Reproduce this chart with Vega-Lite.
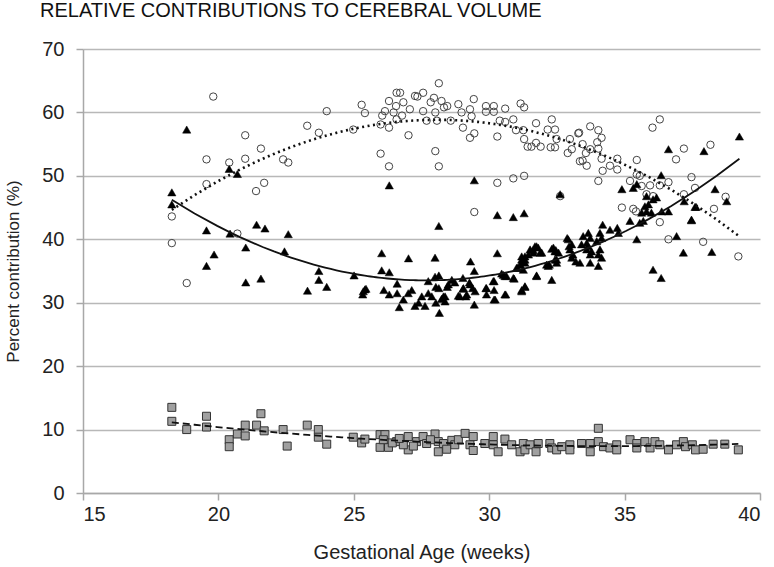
{
  "$schema": "https://vega.github.io/schema/vega-lite/v6.json",
  "width": 677,
  "height": 444,
  "autosize": {"type": "none"},
  "padding": {"left": 83, "top": 49, "right": 14, "bottom": 74},
  "background": "white",
  "config": {
    "view": {"stroke": null},
    "font": "Liberation Sans",
    "axis": {
      "labelFont": "Liberation Sans",
      "labelFontSize": 20,
      "labelColor": "#222",
      "titleFont": "Liberation Sans",
      "titleFontWeight": "normal",
      "titleColor": "#222",
      "domainColor": "#a8a8a8",
      "domainWidth": 1.5,
      "tickColor": "#a8a8a8",
      "tickWidth": 1.5,
      "tickSize": 7,
      "gridColor": "#b8b8b8",
      "gridWidth": 1.5
    }
  },
  "title": {
    "text": "RELATIVE CONTRIBUTIONS TO CEREBRAL VOLUME",
    "anchor": "start",
    "frame": "group",
    "font": "Liberation Sans",
    "fontSize": 20,
    "fontWeight": "normal",
    "color": "#111",
    "dx": -43,
    "offset": 18
  },
  "datasets": {
    "circles": [
      {"age": 19.81, "pct": 62.5}, {"age": 19.56, "pct": 52.6}, {"age": 20.40, "pct": 52.1}, {"age": 20.99, "pct": 56.4}, {"age": 20.99, "pct": 52.7}, {"age": 21.57, "pct": 54.3}, {"age": 19.56, "pct": 48.7}, {"age": 21.69, "pct": 48.9}, {"age": 21.39, "pct": 47.6}, {"age": 22.39, "pct": 52.6}, {"age": 22.58, "pct": 52.1}, {"age": 23.28, "pct": 57.9}, {"age": 23.71, "pct": 56.8}, {"age": 24.00, "pct": 60.2}, {"age": 24.98, "pct": 57.3}, {"age": 25.29, "pct": 61.2}, {"age": 25.41, "pct": 59.9}, {"age": 18.28, "pct": 43.6}, {"age": 18.28, "pct": 39.4}, {"age": 18.83, "pct": 33.1}, {"age": 20.70, "pct": 40.9},
      {"age": 25.99, "pct": 58.1}, {"age": 26.15, "pct": 60.2}, {"age": 26.30, "pct": 61.8}, {"age": 26.30, "pct": 57.6}, {"age": 26.58, "pct": 63.1}, {"age": 26.71, "pct": 63.1}, {"age": 26.56, "pct": 61.0}, {"age": 26.58, "pct": 58.9}, {"age": 26.83, "pct": 61.6}, {"age": 27.02, "pct": 56.4}, {"age": 27.07, "pct": 60.5}, {"age": 27.26, "pct": 62.6}, {"age": 27.35, "pct": 62.5}, {"age": 27.56, "pct": 63.1}, {"age": 27.56, "pct": 60.2}, {"age": 27.69, "pct": 58.7}, {"age": 27.84, "pct": 61.6}, {"age": 27.96, "pct": 62.3}, {"age": 28.01, "pct": 60.0}, {"age": 28.07, "pct": 58.7}, {"age": 28.14, "pct": 64.6}, {"age": 28.24, "pct": 61.8}, {"age": 28.33, "pct": 60.8}, {"age": 28.45, "pct": 61.0}, {"age": 28.58, "pct": 58.7}, {"age": 28.01, "pct": 53.9}, {"age": 28.14, "pct": 51.5}, {"age": 25.99, "pct": 53.5}, {"age": 26.30, "pct": 51.5}, {"age": 28.86, "pct": 61.3}, {"age": 28.98, "pct": 60.0}, {"age": 29.03, "pct": 57.6}, {"age": 29.29, "pct": 60.5}, {"age": 29.35, "pct": 59.4}, {"age": 29.43, "pct": 62.1}, {"age": 29.29, "pct": 56.0}, {"age": 29.45, "pct": 56.7}, {"age": 29.88, "pct": 61.0}, {"age": 29.88, "pct": 60.1}, {"age": 30.17, "pct": 61.0}, {"age": 30.17, "pct": 60.1}, {"age": 30.59, "pct": 60.6}, {"age": 30.39, "pct": 58.7}, {"age": 30.59, "pct": 58.5}, {"age": 30.89, "pct": 58.9}, {"age": 30.30, "pct": 56.2}, {"age": 31.16, "pct": 61.4}, {"age": 31.29, "pct": 60.8}, {"age": 30.99, "pct": 57.2}, {"age": 31.26, "pct": 57.2}, {"age": 31.29, "pct": 55.8}, {"age": 31.42, "pct": 54.6}, {"age": 31.56, "pct": 54.6}, {"age": 31.73, "pct": 58.3}, {"age": 31.73, "pct": 55.2}, {"age": 31.90, "pct": 54.6}, {"age": 32.16, "pct": 57.3}, {"age": 32.31, "pct": 58.9}, {"age": 32.43, "pct": 57.3}, {"age": 32.27, "pct": 54.5}, {"age": 32.43, "pct": 54.5}, {"age": 32.49, "pct": 55.8}, {"age": 32.98, "pct": 55.8}, {"age": 32.90, "pct": 53.6}, {"age": 33.05, "pct": 54.2}, {"age": 33.29, "pct": 56.7}, {"age": 33.35, "pct": 52.3}, {"age": 30.30, "pct": 48.9}, {"age": 30.89, "pct": 49.6}, {"age": 31.29, "pct": 50.0}, {"age": 29.45, "pct": 44.3}, {"age": 32.62, "pct": 46.8},
      {"age": 26.05, "pct": 59.5}, {"age": 26.47, "pct": 60.0}, {"age": 26.78, "pct": 59.5},
      {"age": 33.32, "pct": 56.8}, {"age": 33.73, "pct": 57.8}, {"age": 34.03, "pct": 57.2}, {"age": 34.15, "pct": 56.0}, {"age": 33.99, "pct": 55.3}, {"age": 33.45, "pct": 55.0}, {"age": 33.73, "pct": 54.2}, {"age": 33.57, "pct": 53.6}, {"age": 34.03, "pct": 54.3}, {"age": 34.15, "pct": 52.7}, {"age": 33.45, "pct": 52.4}, {"age": 33.60, "pct": 51.6}, {"age": 34.19, "pct": 50.8}, {"age": 34.46, "pct": 51.6}, {"age": 34.73, "pct": 52.7}, {"age": 34.73, "pct": 51.0}, {"age": 34.03, "pct": 49.2}, {"age": 35.45, "pct": 52.5}, {"age": 35.20, "pct": 49.2}, {"age": 35.45, "pct": 50.2}, {"age": 35.56, "pct": 50.0}, {"age": 35.63, "pct": 48.4}, {"age": 35.94, "pct": 48.5}, {"age": 36.30, "pct": 48.5}, {"age": 36.62, "pct": 49.0}, {"age": 35.81, "pct": 47.1}, {"age": 36.05, "pct": 46.8}, {"age": 34.90, "pct": 45.0}, {"age": 35.32, "pct": 44.8}, {"age": 35.42, "pct": 44.4}, {"age": 36.30, "pct": 42.7}, {"age": 36.62, "pct": 40.0}, {"age": 36.03, "pct": 57.6}, {"age": 36.30, "pct": 58.9}, {"age": 36.90, "pct": 52.6}, {"age": 37.19, "pct": 54.3}, {"age": 38.17, "pct": 54.9}, {"age": 37.47, "pct": 49.8}, {"age": 37.60, "pct": 48.1}, {"age": 37.19, "pct": 47.1}, {"age": 38.30, "pct": 44.8}, {"age": 37.90, "pct": 39.6}, {"age": 38.73, "pct": 46.7}, {"age": 39.20, "pct": 37.3}
    ],
    "triangles": [
      {"age": 18.83, "pct": 57.3}, {"age": 20.40, "pct": 51.1}, {"age": 20.70, "pct": 50.3}, {"age": 18.28, "pct": 47.4}, {"age": 18.28, "pct": 45.5}, {"age": 19.56, "pct": 41.4}, {"age": 20.43, "pct": 40.9}, {"age": 19.84, "pct": 37.6}, {"age": 19.56, "pct": 35.8}, {"age": 21.01, "pct": 38.7}, {"age": 21.01, "pct": 33.2}, {"age": 21.57, "pct": 33.8}, {"age": 21.41, "pct": 42.3}, {"age": 21.72, "pct": 41.7}, {"age": 22.58, "pct": 40.8}, {"age": 22.44, "pct": 38.1}, {"age": 23.71, "pct": 35.0}, {"age": 23.71, "pct": 33.6}, {"age": 24.00, "pct": 32.5}, {"age": 23.29, "pct": 31.9}, {"age": 25.01, "pct": 34.3}, {"age": 25.41, "pct": 32.1}, {"age": 25.33, "pct": 31.3},
      {"age": 26.31, "pct": 48.5}, {"age": 29.45, "pct": 49.3}, {"age": 30.30, "pct": 43.8}, {"age": 30.89, "pct": 43.5}, {"age": 31.29, "pct": 44.1}, {"age": 32.62, "pct": 47.1},
      {"age": 28.14, "pct": 42.1}, {"age": 26.03, "pct": 37.8}, {"age": 27.02, "pct": 37.0}, {"age": 28.00, "pct": 37.1}, {"age": 26.03, "pct": 35.1}, {"age": 26.31, "pct": 34.8}, {"age": 29.31, "pct": 36.5}, {"age": 29.45, "pct": 35.0}, {"age": 30.30, "pct": 37.8}, {"age": 25.35, "pct": 31.8}, {"age": 25.45, "pct": 32.2}, {"age": 26.11, "pct": 32.0}, {"age": 26.31, "pct": 31.3}, {"age": 26.60, "pct": 33.0}, {"age": 26.60, "pct": 31.5}, {"age": 26.68, "pct": 29.3}, {"age": 26.83, "pct": 30.5}, {"age": 27.01, "pct": 31.5}, {"age": 27.14, "pct": 32.0}, {"age": 27.26, "pct": 29.5}, {"age": 27.39, "pct": 30.0}, {"age": 27.51, "pct": 31.0}, {"age": 27.63, "pct": 29.5}, {"age": 27.75, "pct": 33.4}, {"age": 27.75, "pct": 31.5}, {"age": 27.88, "pct": 31.0}, {"age": 28.00, "pct": 34.1}, {"age": 28.03, "pct": 32.5}, {"age": 28.14, "pct": 34.3}, {"age": 28.14, "pct": 32.3}, {"age": 28.16, "pct": 28.4}, {"age": 28.03, "pct": 30.0}, {"age": 28.24, "pct": 30.6}, {"age": 28.37, "pct": 31.0}, {"age": 28.45, "pct": 32.5}, {"age": 28.62, "pct": 33.6}, {"age": 28.73, "pct": 33.2}, {"age": 28.86, "pct": 31.1}, {"age": 29.03, "pct": 33.9}, {"age": 29.03, "pct": 32.2}, {"age": 29.14, "pct": 31.0}, {"age": 29.27, "pct": 33.2}, {"age": 29.39, "pct": 32.3}, {"age": 29.45, "pct": 29.7}, {"age": 29.48, "pct": 31.8}, {"age": 29.88, "pct": 32.3}, {"age": 29.90, "pct": 31.3}, {"age": 30.18, "pct": 33.4}, {"age": 30.18, "pct": 32.0}, {"age": 30.18, "pct": 30.5}, {"age": 30.46, "pct": 34.6}, {"age": 30.58, "pct": 34.2}, {"age": 30.61, "pct": 31.3}, {"age": 30.92, "pct": 33.8}, {"age": 31.04, "pct": 35.5}, {"age": 31.20, "pct": 37.3}, {"age": 31.26, "pct": 36.5}, {"age": 31.20, "pct": 32.0}, {"age": 31.32, "pct": 32.5}, {"age": 31.51, "pct": 38.4}, {"age": 31.63, "pct": 38.3}, {"age": 31.75, "pct": 38.9}, {"age": 31.88, "pct": 37.9}, {"age": 31.75, "pct": 34.3}, {"age": 32.31, "pct": 38.5}, {"age": 32.46, "pct": 38.3}, {"age": 32.49, "pct": 36.8}, {"age": 32.22, "pct": 36.0}, {"age": 32.31, "pct": 33.6}, {"age": 32.88, "pct": 40.2}, {"age": 32.95, "pct": 38.9}, {"age": 33.05, "pct": 37.1}, {"age": 33.20, "pct": 36.5},
      {"age": 28.31, "pct": 31.0}, {"age": 28.37, "pct": 30.2}, {"age": 28.49, "pct": 32.9}, {"age": 28.92, "pct": 31.0}, {"age": 29.05, "pct": 32.3}, {"age": 29.17, "pct": 31.3}, {"age": 29.29, "pct": 32.9}, {"age": 29.90, "pct": 32.3}, {"age": 30.15, "pct": 33.4}, {"age": 30.22, "pct": 30.5}, {"age": 30.58, "pct": 31.3}, {"age": 31.14, "pct": 36.0}, {"age": 31.32, "pct": 36.8}, {"age": 31.45, "pct": 37.6},
      {"age": 34.90, "pct": 47.9}, {"age": 35.32, "pct": 48.1}, {"age": 35.45, "pct": 48.7}, {"age": 35.81, "pct": 46.8}, {"age": 35.88, "pct": 45.5}, {"age": 36.05, "pct": 46.3}, {"age": 36.18, "pct": 46.6}, {"age": 35.75, "pct": 45.2}, {"age": 35.63, "pct": 44.2}, {"age": 35.81, "pct": 44.4}, {"age": 35.99, "pct": 44.2}, {"age": 36.37, "pct": 44.4}, {"age": 36.62, "pct": 44.4}, {"age": 35.56, "pct": 42.6}, {"age": 35.69, "pct": 42.9}, {"age": 35.20, "pct": 42.9}, {"age": 34.73, "pct": 41.8}, {"age": 34.77, "pct": 41.0}, {"age": 34.46, "pct": 41.5}, {"age": 34.19, "pct": 42.3}, {"age": 34.09, "pct": 41.0}, {"age": 34.15, "pct": 40.2}, {"age": 33.97, "pct": 39.7}, {"age": 33.66, "pct": 41.0}, {"age": 33.73, "pct": 40.2}, {"age": 33.60, "pct": 39.4}, {"age": 33.47, "pct": 40.5},
      {"age": 33.41, "pct": 39.2}, {"age": 33.60, "pct": 38.4}, {"age": 33.66, "pct": 38.9}, {"age": 33.78, "pct": 38.1}, {"age": 33.73, "pct": 37.6}, {"age": 34.09, "pct": 38.4}, {"age": 34.03, "pct": 37.6}, {"age": 34.15, "pct": 37.1}, {"age": 34.03, "pct": 35.8}, {"age": 32.92, "pct": 40.0}, {"age": 33.05, "pct": 39.2}, {"age": 32.98, "pct": 38.4}, {"age": 33.09, "pct": 37.6}, {"age": 33.35, "pct": 36.3}, {"age": 33.73, "pct": 36.3}, {"age": 32.37, "pct": 38.7}, {"age": 32.43, "pct": 38.1}, {"age": 32.56, "pct": 37.9}, {"age": 32.43, "pct": 36.8}, {"age": 32.49, "pct": 36.3}, {"age": 31.69, "pct": 38.9}, {"age": 31.81, "pct": 38.7}, {"age": 31.94, "pct": 37.9}, {"age": 31.63, "pct": 37.9}, {"age": 31.75, "pct": 34.2}, {"age": 31.32, "pct": 37.3}, {"age": 31.20, "pct": 36.8}, {"age": 31.32, "pct": 36.3}, {"age": 31.01, "pct": 35.5}, {"age": 31.26, "pct": 35.2}, {"age": 32.12, "pct": 36.0}, {"age": 32.18, "pct": 35.8}, {"age": 30.52, "pct": 34.4}, {"age": 30.64, "pct": 34.2}, {"age": 30.89, "pct": 33.9}, {"age": 31.32, "pct": 32.6}, {"age": 31.20, "pct": 31.8},
      {"age": 35.45, "pct": 40.0}, {"age": 36.92, "pct": 40.5}, {"age": 37.17, "pct": 37.9}, {"age": 37.47, "pct": 43.1}, {"age": 37.64, "pct": 45.1}, {"age": 37.20, "pct": 46.0}, {"age": 36.05, "pct": 35.2}, {"age": 36.35, "pct": 33.9}, {"age": 36.62, "pct": 54.2}, {"age": 37.93, "pct": 53.9}, {"age": 39.24, "pct": 56.2}, {"age": 36.35, "pct": 50.1}, {"age": 38.34, "pct": 47.9}, {"age": 38.77, "pct": 46.0}, {"age": 37.60, "pct": 45.1}, {"age": 37.47, "pct": 43.0}, {"age": 38.22, "pct": 38.0}
    ],
    "squares": [
      {"age": 18.28, "pct": 13.5}, {"age": 18.28, "pct": 11.3}, {"age": 18.83, "pct": 10.0}, {"age": 19.56, "pct": 12.1}, {"age": 19.56, "pct": 10.4}, {"age": 20.40, "pct": 8.4}, {"age": 20.40, "pct": 7.3}, {"age": 20.70, "pct": 9.3}, {"age": 20.99, "pct": 10.7}, {"age": 20.99, "pct": 9.0}, {"age": 21.41, "pct": 10.7}, {"age": 21.57, "pct": 12.5}, {"age": 21.69, "pct": 9.8}, {"age": 22.39, "pct": 10.0}, {"age": 22.54, "pct": 7.4}, {"age": 23.28, "pct": 10.7}, {"age": 23.69, "pct": 10.0}, {"age": 23.69, "pct": 8.8}, {"age": 24.00, "pct": 7.7}, {"age": 24.98, "pct": 8.8}, {"age": 25.29, "pct": 7.9}, {"age": 25.41, "pct": 8.5}, {"age": 25.97, "pct": 9.2}, {"age": 26.15, "pct": 9.2}, {"age": 25.97, "pct": 7.2}, {"age": 26.28, "pct": 7.2}, {"age": 26.09, "pct": 8.4}, {"age": 26.58, "pct": 8.1}, {"age": 27.01, "pct": 8.9}, {"age": 27.01, "pct": 6.8}, {"age": 26.83, "pct": 7.6}, {"age": 27.32, "pct": 8.1}, {"age": 27.56, "pct": 8.9}, {"age": 27.69, "pct": 7.8}, {"age": 28.00, "pct": 9.3}, {"age": 28.12, "pct": 8.1}, {"age": 28.12, "pct": 6.5}, {"age": 28.31, "pct": 7.8}, {"age": 28.43, "pct": 6.9}, {"age": 28.62, "pct": 8.3}, {"age": 28.73, "pct": 7.6},
      {"age": 26.42, "pct": 7.9}, {"age": 27.20, "pct": 7.4}, {"age": 27.83, "pct": 8.4}, {"age": 26.68, "pct": 8.6},
      {"age": 28.86, "pct": 8.4}, {"age": 29.11, "pct": 9.4}, {"age": 29.41, "pct": 8.9}, {"age": 29.29, "pct": 7.6}, {"age": 29.41, "pct": 6.7}, {"age": 29.84, "pct": 7.8}, {"age": 30.15, "pct": 8.9}, {"age": 30.15, "pct": 7.6}, {"age": 30.33, "pct": 6.5}, {"age": 30.58, "pct": 8.5}, {"age": 30.83, "pct": 7.6}, {"age": 31.14, "pct": 6.5}, {"age": 31.26, "pct": 7.8}, {"age": 31.32, "pct": 6.8}, {"age": 31.51, "pct": 7.6}, {"age": 31.73, "pct": 6.5}, {"age": 31.81, "pct": 7.8}, {"age": 32.24, "pct": 7.8}, {"age": 32.31, "pct": 7.1}, {"age": 32.49, "pct": 6.8}, {"age": 32.68, "pct": 7.3}, {"age": 32.98, "pct": 7.6}, {"age": 32.98, "pct": 6.8}, {"age": 33.41, "pct": 7.8}, {"age": 33.73, "pct": 7.8}, {"age": 33.73, "pct": 6.5}, {"age": 34.03, "pct": 10.2}, {"age": 34.03, "pct": 8.1}, {"age": 34.22, "pct": 7.3}, {"age": 34.46, "pct": 7.1}, {"age": 34.71, "pct": 7.6}, {"age": 34.71, "pct": 6.8}, {"age": 35.20, "pct": 8.4}, {"age": 35.45, "pct": 7.8}, {"age": 35.45, "pct": 7.1}, {"age": 35.75, "pct": 8.1}, {"age": 35.94, "pct": 7.1}, {"age": 36.12, "pct": 8.1}, {"age": 36.30, "pct": 7.6}, {"age": 36.62, "pct": 6.8}, {"age": 36.92, "pct": 7.6}, {"age": 37.17, "pct": 8.1}, {"age": 37.25, "pct": 7.3}, {"age": 37.50, "pct": 7.6}, {"age": 37.62, "pct": 6.8}, {"age": 37.90, "pct": 6.9}, {"age": 38.27, "pct": 7.7}, {"age": 38.70, "pct": 7.7}, {"age": 39.20, "pct": 6.8}
    ]
  },
  "encoding": {
    "x": {
      "field": "age", "type": "quantitative",
      "scale": {"domain": [15, 40], "nice": false, "zero": false},
      "axis": {
        "values": [15, 20, 25, 30, 35, 40],
        "grid": false,
        "title": "Gestational Age (weeks)",
        "titleFontSize": 20,
        "titleY": 59,
        "titleBaseline": "middle",
        "labelPadding": 4
      }
    },
    "y": {
      "field": "pct", "type": "quantitative",
      "scale": {"domain": [0, 70], "nice": false},
      "axis": {
        "values": [0, 10, 20, 30, 40, 50, 60, 70],
        "grid": true,
        "title": "Percent contribution (%)",
        "titleFontSize": 17,
        "titleX": -70,
        "titleY": 222,
        "titleBaseline": "middle",
        "labelPadding": 12
      }
    }
  },
  "layer": [
    {
      "data": {"name": "circles"},
      "mark": {"type": "point", "shape": "circle", "filled": false, "stroke": "#444", "strokeWidth": 1, "size": 55, "opacity": 1}
    },
    {
      "data": {"name": "squares"},
      "mark": {"type": "point", "shape": "square", "filled": true, "fill": "#a0a0a0", "stroke": "#333", "strokeWidth": 1, "size": 64, "opacity": 1}
    },
    {
      "data": {"name": "triangles"},
      "mark": {"type": "point", "shape": "triangle-up", "filled": true, "fill": "#000", "stroke": "#000", "strokeWidth": 0.5, "size": 68, "opacity": 1}
    },
    {
      "data": {"name": "circles"},
      "transform": [{"regression": "pct", "on": "age", "method": "poly", "order": 2}],
      "mark": {"type": "line", "color": "#111", "strokeWidth": 2.6, "strokeDash": [2, 3.5], "strokeCap": "butt"}
    },
    {
      "data": {"name": "triangles"},
      "transform": [{"regression": "pct", "on": "age", "method": "poly", "order": 2}],
      "mark": {"type": "line", "color": "#111", "strokeWidth": 1.8}
    },
    {
      "data": {"name": "squares"},
      "transform": [{"regression": "pct", "on": "age", "method": "poly", "order": 2}],
      "mark": {"type": "line", "color": "#111", "strokeWidth": 1.8, "strokeDash": [7, 4]}
    }
  ]
}
